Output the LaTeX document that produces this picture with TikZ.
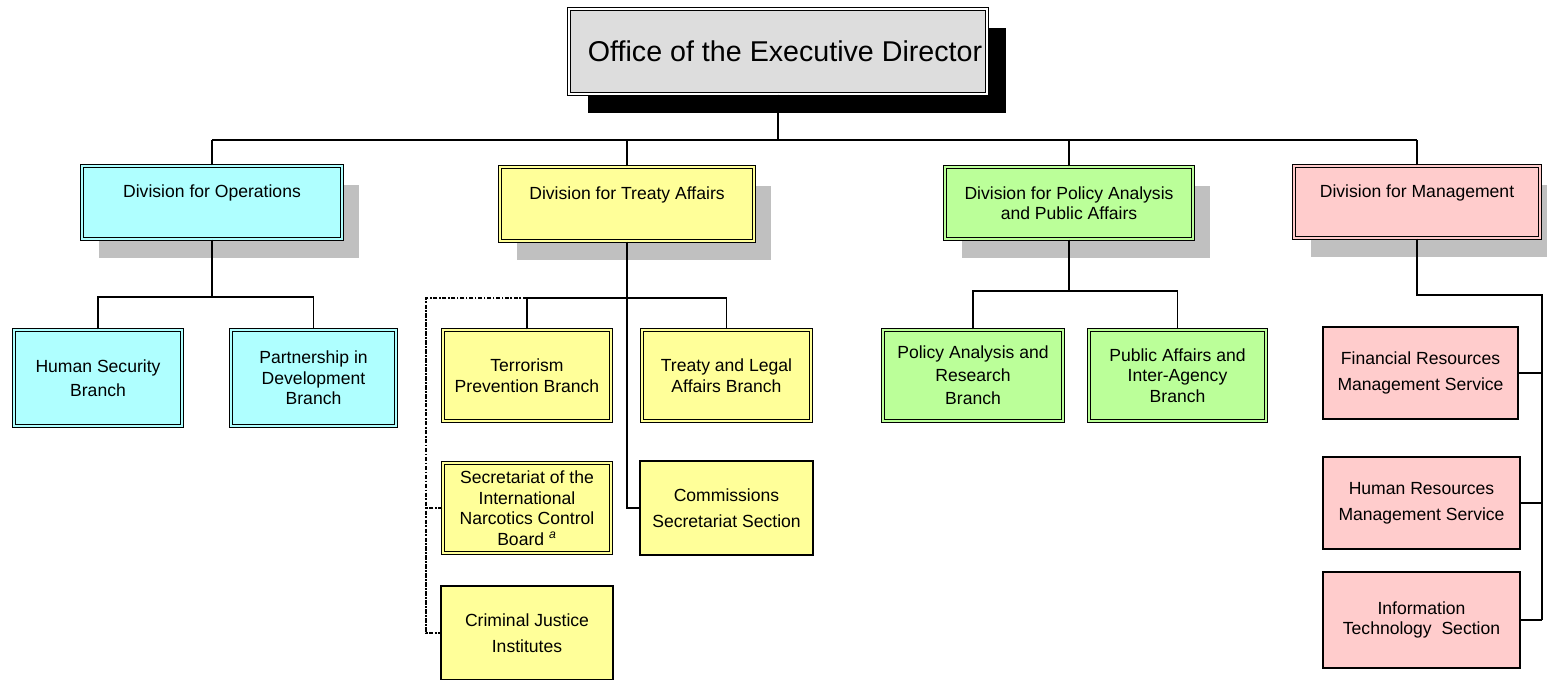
\documentclass[tikz,border=0pt]{standalone}
\usepackage{fontspec}
\setmainfont{Liberation Sans}
\usetikzlibrary{shadows}
\definecolor{opscol}{RGB}{175,255,255}
\definecolor{trtcol}{RGB}{255,255,153}
\definecolor{polcol}{RGB}{187,255,153}
\definecolor{mgtcol}{RGB}{255,204,204}
\definecolor{topcol}{RGB}{221,221,221}
\definecolor{shdcol}{RGB}{192,192,192}
\begin{document}
\begin{tikzpicture}[x=0.02cm,y=-0.02cm,
	box/.style={draw,line width=0.6pt,fill=#1,align=center,inner sep=0pt,
		font=\fontsize{10}{11.7}\selectfont},
	dbox/.style={box=#1,line width=0.7pt,double=#1,double distance=1.2pt},
	wh/.style 2 args={minimum width=#1*0.02cm,minimum height=#2*0.02cm},
	grayshadow/.style={drop shadow={shadow xshift=0.34cm,shadow yshift=-0.38cm,fill=shdcol,opacity=1}},
	blackshadow/.style={drop shadow={shadow xshift=0.38cm,shadow yshift=-0.38cm,fill=black,opacity=1}},
	link/.style={line width=0.6pt},
	dotline/.style={line width=1.6pt,dash pattern=on 2.5pt off 0.8pt on 1pt off 0.8pt}]
	
	\useasboundingbox (0,0) rectangle (1547,679);
	\clip (0,0) rectangle (1547,679);
	
	\node[dbox=topcol,double=white,wh={418}{85},blackshadow,font=\fontsize{16.3}{19}\selectfont] (top) at (778,51.5) {\hspace*{8pt}Office of the Executive Director};
	
	% divisions
	\node[dbox=opscol,wh={260}{73},grayshadow] (ops) at (212,202.5) {Division for Operations\\[1pt]\mbox{}};
	\node[dbox=trtcol,wh={254}{74},grayshadow] (treaty) at (627,204) {Division for Treaty Affairs\\[1pt]\mbox{}};
	\node[dbox=polcol,wh={248}{72},grayshadow] (policy) at (1069,203) {Division for Policy Analysis\\and Public Affairs};
	\node[dbox=mgtcol,wh={246}{72},grayshadow] (mgmt) at (1417,202) {Division for Management\\[1pt]\mbox{}};
	
	\node[dbox=opscol,wh={168}{96}] (hsb) at (98,378) {Human Security\\[2pt]Branch};
	\node[dbox=opscol,wh={165}{96}] (pdb) at (313.5,378) {Partnership in\\Development\\Branch};
	
	\node[dbox=trtcol,wh={168}{91}] (tpb) at (527,375.5) {Terrorism\\Prevention Branch};
	\node[dbox=trtcol,wh={169}{91}] (tlb) at (726.5,375.5) {Treaty and Legal\\Affairs Branch};
	\node[dbox=trtcol,wh={168}{90}] (sec) at (527,508) {Secretariat of the\\International\\Narcotics Control\\Board \textsuperscript{\itshape a}};
	\node[box=trtcol,wh={173}{94}] (csb) at (726.5,508) {Commissions\\[3pt]Secretariat Section};
	\node[box=trtcol,wh={172}{94}] (cji) at (527,633) {Criminal Justice\\[3pt]Institutes};
	
	\node[dbox=polcol,wh={180}{91}] (par) at (973,375.5) {Policy Analysis and\\[1.5pt]Research\\[1.5pt]Branch};
	\node[dbox=polcol,wh={177}{91}] (pia) at (1177.5,375.5) {Public Affairs and\\Inter-Agency\\Branch};
	
	\node[box=mgtcol,wh={195}{92}] (frm) at (1420.5,373) {Financial Resources\\[3.5pt]Management Service};
	\node[box=mgtcol,wh={197}{92}] (hrm) at (1421.5,503) {Human Resources\\[3pt]Management Service};
	\node[box=mgtcol,wh={197}{96}] (its) at (1421.5,620) {Information\\Technology~ Section};
	
	% connectors
	\coordinate (bus) at (0,140);
	\draw[link] (top.south) -- (top.south |- bus);
	\draw[link] (ops.north |- bus) -- (mgmt.north |- bus);
	\foreach \d in {ops,treaty,policy,mgmt}\draw[link] (\d.north) -- (\d.north |- bus);
	
	\coordinate (opsbus) at (212,297);
	\draw[link] (ops.south) -- (opsbus);
	\draw[link] (hsb.north) |- (opsbus) -| (pdb.north);
	
	\coordinate (trtbus) at (627,298);
	\draw[link] (tpb.north) |- (trtbus) -| (tlb.north);
	\draw[link] (treaty.south) |- (csb.west);
	\coordinate (dotc) at (426,633);
	\draw[dotline] (tpb.north |- trtbus) -| (dotc) -- (cji.west);
	\draw[dotline] (sec.west) -- (sec.west -| dotc);
	
	\coordinate (polbus) at (1069,291);
	\draw[link] (policy.south) -- (polbus);
	\draw[link] (par.north) |- (polbus) -| (pia.north);
	
	\coordinate (mgtbus) at (1542,295);
	\draw[link] (mgmt.south) |- (mgtbus) -- (mgtbus |- its.east);
	\foreach \b in {frm,hrm,its}\draw[link] (\b.east) -- (\b.east -| mgtbus);
	
\end{tikzpicture}
\end{document}
